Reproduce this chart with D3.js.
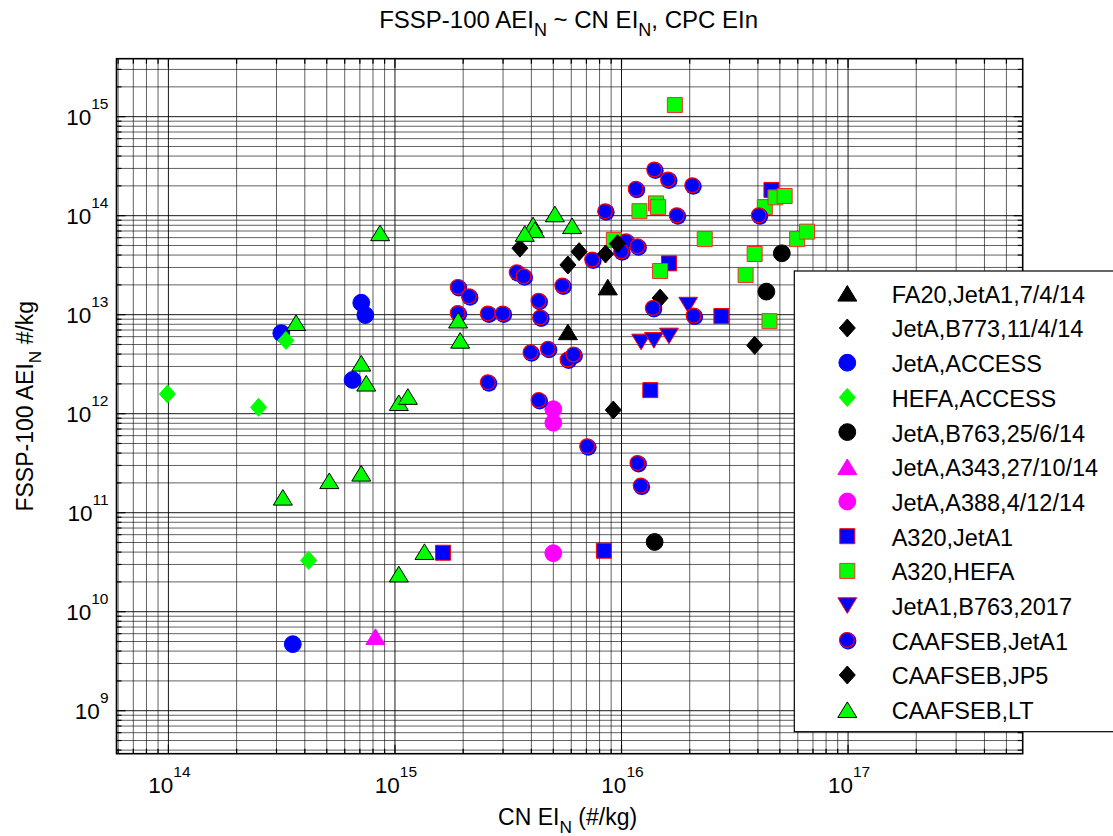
<!DOCTYPE html>
<html>
<head>
<meta charset="utf-8">
<script src="https://cdn.jsdelivr.net/npm/d3@7"></script>
<style>
  body { margin: 0; background: #fff; }
  svg { font-family: Arial, "Liberation Sans", sans-serif; }
</style>
</head>
<body>
<div id="chart"></div>
<script>
// [CN EI_N, AEI_N] pairs (#/kg)
const fa20JetA1 = [[8.7e15, 1.9e13], [5.8e15, 6.7e12]];
const jetAB773 = [[1.48e16, 1.47e13], [9.2e15, 1.09e12], [3.87e16, 4.9e12]];
const jetAAccess = [[3.15e14, 6.5e12], [7.1e14, 1.32e13], [7.4e14, 9.9e12], [6.5e14, 2.19e12], [3.54e14, 4.7e9]];
const hefaAccess = [[3.3e14, 5.5e12], [9.9e13, 1.58e12], [2.5e14, 1.16e12], [4.16e14, 3.3e10]];
const jetAB763 = [[5.1e16, 4.17e13], [4.36e16, 1.71e13], [1.4e16, 5.06e10]];
const jetAA343 = [[8.2e14, 5.6e9]];
const jetAA388 = [[5.0e15, 1.11e12], [5.0e15, 8.1e11], [5.0e15, 3.9e10]];
const a320JetA1 = [[1.63e15, 3.94e10], [8.36e15, 4.13e10], [1.62e16, 3.3e13], [2.76e16, 9.7e12],
  [1.34e16, 1.73e12], [4.59e16, 1.82e14]];
const a320Hefa = [[1.72e16, 1.31e15], [1.2e16, 1.11e14], [1.42e16, 1.33e14], [1.45e16, 1.22e14],
  [2.33e16, 5.8e13], [1.48e16, 2.76e13], [9.25e15, 5.7e13], [3.87e16, 4.1e13], [3.53e16, 2.52e13],
  [4.5e16, 8.6e12], [4.29e16, 1.22e14], [4.78e16, 1.53e14], [5.25e16, 1.58e14], [5.96e16, 5.8e13],
  [6.59e16, 6.9e13]];
const jetA1B763 = [[1.22e16, 5.3e12], [1.39e16, 5.5e12], [1.62e16, 6.1e12], [1.97e16, 1.25e13]];
const caafsebJetA1 = [[8.5e15, 1.1e14], [7.45e15, 3.57e13], [3.46e15, 2.66e13], [3.71e15, 2.42e13],
  [5.5e15, 1.95e13], [1.9e15, 1.89e13], [2.13e15, 1.52e13], [4.32e15, 1.37e13], [1.9e15, 1.03e13],
  [2.58e15, 1.02e13], [3.0e15, 1.02e13], [4.39e15, 9.3e12], [3.98e15, 4.13e12], [4.75e15, 4.48e12],
  [5.8e15, 3.49e12], [6.16e15, 3.92e12], [2.58e15, 2.06e12], [4.32e15, 1.36e12], [7.08e15, 4.65e11],
  [1.18e16, 3.15e11], [1.22e16, 1.86e11], [1.4e16, 2.9e14], [1.61e16, 2.3e14], [1.16e16, 1.85e14],
  [2.06e16, 2.01e14], [1.76e16, 1.0e14], [4.05e16, 1.0e14], [1.05e16, 5.46e13], [1.0e16, 4.33e13],
  [1.18e16, 4.86e13], [1.38e16, 1.16e13], [2.09e16, 9.7e12]];
const caafsebJP5 = [[3.56e15, 4.7e13], [5.8e15, 3.18e13], [6.5e15, 4.33e13], [8.5e15, 4.1e13], [9.6e15, 5.2e13]];
const caafsebLT = [[8.6e14, 6.7e13], [3.66e14, 8.3e12], [7.1e14, 3.23e12], [7.47e14, 2.03e12],
  [1.04e15, 1.29e12], [1.14e15, 1.49e12], [7.1e14, 2.5e11], [5.13e14, 2.1e11], [3.2e14, 1.43e11],
  [1.35e15, 4.04e10], [1.04e15, 2.4e10], [5.08e15, 1.04e14], [4.07e15, 8.05e13], [4.15e15, 7.2e13],
  [3.74e15, 6.6e13], [6.05e15, 7.9e13], [1.9e15, 8.8e12], [1.94e15, 5.5e12]];

const xTicks = [1e14, 1e15, 1e16, 1e17];
const yTicks = [1e9, 1e10, 1e11, 1e12, 1e13, 1e14, 1e15];

const series = [
  { name: "FA20,JetA1,7/4/14", data: fa20JetA1, shape: "triangle", fill: "#000000", stroke: "#000000" },
  { name: "JetA,B773,11/4/14", data: jetAB773, shape: "diamond", fill: "#000000", stroke: "#000000" },
  { name: "JetA,ACCESS", data: jetAAccess, shape: "circle", fill: "#0000ff", stroke: "#0000ff" },
  { name: "HEFA,ACCESS", data: hefaAccess, shape: "diamond", fill: "#00ff00", stroke: "#00ff00" },
  { name: "JetA,B763,25/6/14", data: jetAB763, shape: "circle", fill: "#000000", stroke: "#000000" },
  { name: "JetA,A343,27/10/14", data: jetAA343, shape: "triangle", fill: "#ff00ff", stroke: "#ff00ff" },
  { name: "JetA,A388,4/12/14", data: jetAA388, shape: "circle", fill: "#ff00ff", stroke: "#ff00ff" },
  { name: "A320,JetA1", data: a320JetA1, shape: "square", fill: "#0000ff", stroke: "#ff0000" },
  { name: "A320,HEFA", data: a320Hefa, shape: "square", fill: "#00ff00", stroke: "#ff2a2a" },
  { name: "JetA1,B763,2017", data: jetA1B763, shape: "down", fill: "#0000ff", stroke: "#ff0000" },
  { name: "CAAFSEB,JetA1", data: caafsebJetA1, shape: "ring", fill: "#0000ff", stroke: "#ff0000" },
  { name: "CAAFSEB,JP5", data: caafsebJP5, shape: "diamond", fill: "#000000", stroke: "#000000" },
  { name: "CAAFSEB,LT", data: caafsebLT, shape: "triangle", fill: "#00ff00", stroke: "#000000" },
];

const width = 1113;
const height = 836;
const plot = { l: 116.5, r: 1022.7, t: 58.7, b: 753.7 };

const x = d3.scaleLog().domain([5.9e13, 5.9e17]).range([plot.l, plot.r]);
const y = d3.scaleLog().domain([3.68e8, 3.85e15]).range([plot.b, plot.t]);

const svg = d3.select("#chart").append("svg")
  .attr("width", width)
  .attr("height", height);

// minor + major grid values, 1..9 per decade inside the domain
function logValues(scale) {
  const [a, b] = scale.domain();
  const out = [];
  for (let e = Math.floor(Math.log10(a)); e <= Math.ceil(Math.log10(b)); e++) {
    for (let m = 1; m <= 9; m++) {
      const v = m * Math.pow(10, e);
      if (v >= a && v <= b) out.push({ v: v, major: m === 1 });
    }
  }
  return out;
}
const xGrid = logValues(x);
const yGrid = logValues(y);

const grid = svg.append("g");
grid.selectAll(".gx").data(xGrid).join("line")
  .attr("x1", (d) => x(d.v)).attr("x2", (d) => x(d.v))
  .attr("y1", plot.t).attr("y2", plot.b)
  .attr("stroke", "#000")
  .attr("stroke-opacity", (d) => (d.major ? 0.9 : 0.62))
  .attr("stroke-width", 1);
grid.selectAll(".gy").data(yGrid).join("line")
  .attr("y1", (d) => y(d.v)).attr("y2", (d) => y(d.v))
  .attr("x1", plot.l).attr("x2", plot.r)
  .attr("stroke", "#000")
  .attr("stroke-opacity", (d) => (d.major ? 0.9 : 0.62))
  .attr("stroke-width", 1);

// ticks inside on all four sides
const ticks = svg.append("g").attr("stroke", "#000").attr("stroke-width", 1.2);
xGrid.forEach((d) => {
  const len = d.major ? 9 : 5;
  ticks.append("line").attr("x1", x(d.v)).attr("x2", x(d.v)).attr("y1", plot.b).attr("y2", plot.b - len);
  ticks.append("line").attr("x1", x(d.v)).attr("x2", x(d.v)).attr("y1", plot.t).attr("y2", plot.t + len);
});
yGrid.forEach((d) => {
  const len = d.major ? 9 : 5;
  ticks.append("line").attr("y1", y(d.v)).attr("y2", y(d.v)).attr("x1", plot.l).attr("x2", plot.l + len);
  ticks.append("line").attr("y1", y(d.v)).attr("y2", y(d.v)).attr("x1", plot.r).attr("x2", plot.r - len);
});

svg.append("rect")
  .attr("x", plot.l).attr("y", plot.t)
  .attr("width", plot.r - plot.l).attr("height", plot.b - plot.t)
  .attr("fill", "none").attr("stroke", "#000").attr("stroke-width", 1.6);

// tick labels 10^n
function powerLabel(sel, v) {
  const e = Math.round(Math.log10(v));
  sel.append("tspan").text("10");
  sel.append("tspan").attr("dy", -16).style("font-size", "15.5px").text(e);
}
xTicks.forEach((v) => {
  const t = svg.append("text")
    .attr("x", x(v) + 1).attr("y", 793)
    .attr("text-anchor", "middle")
    .style("font-size", "22.5px");
  powerLabel(t, v);
});
yTicks.forEach((v) => {
  const t = svg.append("text")
    .attr("x", 108.5).attr("y", y(v) + 8.5)
    .attr("text-anchor", "end")
    .style("font-size", "22.5px");
  powerLabel(t, v);
});

// title and axis labels with subscript N
function withSub(sel, parts, size) {
  parts.forEach((p) => {
    if (p.sub) {
      sel.append("tspan").attr("dy", size * 0.33).style("font-size", size * 0.75 + "px").text(p.sub);
    } else {
      sel.append("tspan").attr("dy", p.after ? -size * 0.33 : 0).text(p.t);
    }
  });
}
const title = svg.append("text")
  .attr("x", (plot.l + plot.r) / 2 - 1).attr("y", 28)
  .attr("text-anchor", "middle").style("font-size", "24px");
withSub(title, [{ t: "FSSP-100 AEI" }, { sub: "N" }, { t: " ~ CN EI", after: true }, { sub: "N" },
  { t: ", CPC EIn", after: true }], 24);

const xLabel = svg.append("text")
  .attr("x", (plot.l + plot.r) / 2 - 2).attr("y", 825)
  .attr("text-anchor", "middle").style("font-size", "23px");
withSub(xLabel, [{ t: "CN EI" }, { sub: "N" }, { t: " (#/kg)", after: true }], 23);

const yLabel = svg.append("text")
  .attr("transform", `translate(33, ${(plot.t + plot.b) / 2}) rotate(-90)`)
  .attr("text-anchor", "middle").style("font-size", "23px");
withSub(yLabel, [{ t: "FSSP-100 AEI" }, { sub: "N" }, { t: " #/kg", after: true }], 23);

// marker shapes
const shapes = {
  triangle: "M0,-7.8L9.5,7.8L-9.5,7.8Z",
  down: "M-9.4,-7.8L9.4,-7.8L0,7.8Z",
  diamond: "M0,-9L8,0L0,9L-8,0Z",
  square: "M-7.5,-7.5h15v15h-15Z",
  circle: d3.symbol().type(d3.symbolCircle).size(Math.PI * 8.4 * 8.4)(),
};

function drawMarker(g, s) {
  if (s.shape === "ring") {
    g.append("circle").attr("cx", 0.7).attr("cy", 0.7).attr("r", 8.4).attr("fill", s.fill);
    g.append("circle").attr("cx", -0.4).attr("cy", -0.4).attr("r", 7.4)
      .attr("fill", s.fill).attr("stroke", s.stroke).attr("stroke-width", 1.2);
  } else {
    g.append("path").attr("d", shapes[s.shape])
      .attr("fill", s.fill).attr("stroke", s.stroke).attr("stroke-width", 1);
  }
}

const marks = svg.append("g");
series.forEach((s) => {
  marks.append("g").selectAll("g").data(s.data).join("g")
    .attr("transform", (d) => `translate(${x(d[0])},${y(d[1])})`)
    .each(function () { drawMarker(d3.select(this), s); });
});

// legend
const legend = svg.append("g");
legend.append("rect")
  .attr("x", 794.3).attr("y", 271)
  .attr("width", 340).attr("height", 460.7)
  .attr("fill", "#fff").attr("stroke", "#000").attr("stroke-width", 1.2);
series.forEach((s, i) => {
  const cy = 293.3 + i * 34.7;
  const g = legend.append("g").attr("transform", `translate(847.3,${cy})`);
  drawMarker(g, s);
  legend.append("text")
    .attr("x", 891.7).attr("y", cy + 9.4)
    .style("font-size", "23.5px")
    .text(s.name);
});
</script>
</body>
</html>
